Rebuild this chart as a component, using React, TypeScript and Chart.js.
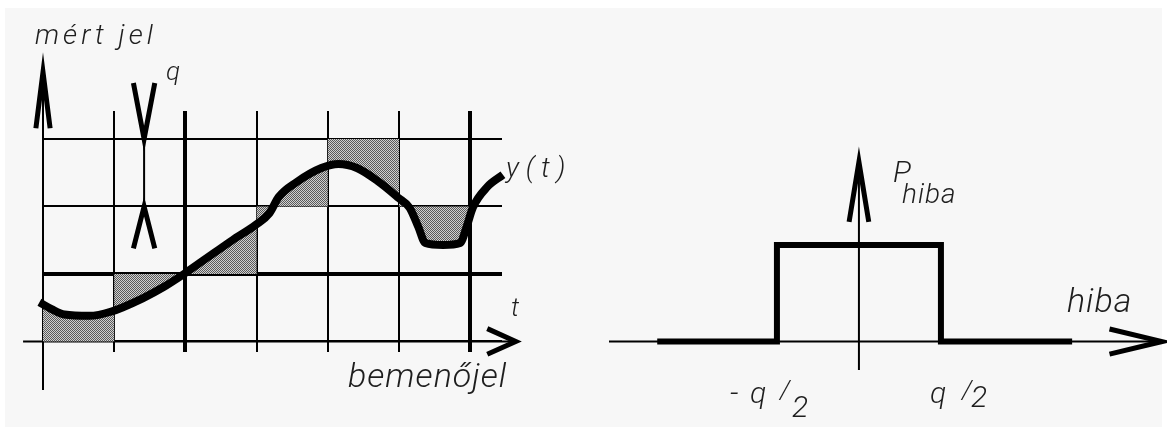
import { useEffect, useRef } from 'react';
import { Chart, registerables } from 'chart.js';

Chart.register(...registerables);

// Sampling cells on the time axis and the quantization levels
const timeGrid = [0, 1, 2, 3, 4, 5, 6];
const levelGrid = [0, 1, 2, 3];
const boldTimes = [2, 6];
const boldLevels = [1];
// Quantized level held in each cell (last entry closes the final cell)
const cellLevels = [0, 1, 1, 2, 3, 2, 2];

// Measured signal y(t)
const signalT = [-0.05, 0.12, 0.3, 0.65, 0.95, 1.4, 1.7, 1.98, 2.4, 2.66, 2.99, 3.18, 3.31, 3.56, 3.91, 4.15, 4.41, 4.71, 4.99, 5.15, 5.27, 5.37, 5.62, 5.86, 5.95, 6.04, 6.24, 6.46];
const signalY = [0.58, 0.48, 0.4, 0.38, 0.44, 0.64, 0.81, 1.0, 1.31, 1.5, 1.73, 1.9, 2.14, 2.36, 2.57, 2.63, 2.57, 2.37, 2.13, 1.98, 1.7, 1.46, 1.43, 1.46, 1.7, 1.99, 2.29, 2.47];

// Error density: uniform between -q/2 and q/2
const errorX = [-1.23, -0.5, -0.5, 0.5, 0.5, 1.3];
const errorP = [0, 0, 1, 1, 0, 0];

// Axis extents
const timeAxis = [-0.28, 6.6];
const levelAxis = [-0.72, 3.95];
const errAxis = [-1.524, 1.8];
const pAxis = [-0.295, 1.82];

// q marker position (time) between levels 2 and 3
const qMarkT = 1.42;

type Pt = { x: number; y: number };
const pts = (xs: number[], ys: number[]): Pt[] => xs.map((x, i) => ({ x, y: ys[i] }));

// open arrow heads as polylines
const headUp = (x: number, tip: number, half: number, len: number): Pt[] => [
  { x: x - half, y: tip - len }, { x, y: tip }, { x: x + half, y: tip - len },
];
const headDown = (x: number, tip: number, half: number, len: number): Pt[] => [
  { x: x - half, y: tip + len }, { x, y: tip }, { x: x + half, y: tip + len },
];
const headRight = (y: number, tip: number, half: number, len: number): Pt[] => [
  { x: tip - len, y: y + half }, { x: tip, y }, { x: tip - len, y: y - half },
];

const stroke = (data: Pt[], width: number) => ({
  data,
  borderColor: '#000',
  borderWidth: width,
  pointRadius: 0,
  fill: false,
  clip: false as const,
  borderCapStyle: 'butt' as const,
  borderJoinStyle: 'miter' as const,
});

type Label = { text: string; x: number; y: number; size: number; spacing?: number };

const leftLabels: Label[] = [
  { text: 'mért jel', x: 35, y: 44, size: 28, spacing: 4 },
  { text: 'q', x: 166, y: 80, size: 26 },
  { text: 'y ( t )', x: 506, y: 177, size: 28 },
  { text: 't', x: 511, y: 316, size: 26 },
  { text: 'bemenőjel', x: 348, y: 387, size: 34, spacing: 1 },
];

const rightLabels: Label[] = [
  { text: 'P', x: 893, y: 182, size: 30 },
  { text: 'hiba', x: 902, y: 203, size: 28, spacing: 1 },
  { text: 'hiba', x: 1067, y: 312, size: 34, spacing: 1 },
  { text: '-', x: 730, y: 403, size: 30 },
  { text: 'q', x: 750, y: 403, size: 30 },
  { text: '/', x: 780, y: 398, size: 26 },
  { text: '2', x: 792, y: 417, size: 30 },
  { text: 'q', x: 930, y: 403, size: 30 },
  { text: '/', x: 962, y: 398, size: 26 },
  { text: '2', x: 971, y: 407, size: 30 },
];

const labelPlugin = (id: string, labels: Label[]) => ({
  id,
  afterDraw(chart: Chart) {
    const ctx = chart.ctx;
    ctx.save();
    ctx.fillStyle = '#1e1e1e';
    ctx.textBaseline = 'alphabetic';
    ctx.textAlign = 'left';
    for (const l of labels) {
      ctx.font = `italic 300 ${l.size}px Roboto, "DejaVu Sans", sans-serif`;
      (ctx as any).letterSpacing = `${l.spacing ?? 0}px`;
      ctx.fillText(l.text, l.x, l.y);
    }
    ctx.restore();
  },
});

function makeHatch(): CanvasPattern | string {
  const c = document.createElement('canvas');
  c.width = 2;
  c.height = 2;
  const g = c.getContext('2d');
  if (!g) return '#999';
  g.fillStyle = '#d0d0d0';
  g.fillRect(0, 0, 2, 2);
  g.fillStyle = '#5a5a5a';
  g.fillRect(0, 0, 1, 1);
  g.fillRect(1, 1, 1, 1);
  return g.createPattern(c, 'repeat') ?? '#999';
}

const W = 1167;
const H = 432;

export default function App() {
  const leftRef = useRef<HTMLCanvasElement>(null);
  const rightRef = useRef<HTMLCanvasElement>(null);

  useEffect(() => {
    document.body.style.margin = '0';
    if (!leftRef.current || !rightRef.current) return;
    const hatch = makeHatch();

    const left = new Chart(leftRef.current, {
      type: 'line',
      data: {
        datasets: [
          {
            // quantized staircase: fill boundary only, not stroked
            data: pts(timeGrid, cellLevels),
            stepped: 'before',
            borderColor: 'rgba(0,0,0,0)',
            borderWidth: 1,
            pointRadius: 0,
            fill: false,
          },
          {
            data: pts(signalT, signalY),
            borderColor: '#000',
            borderWidth: 8,
            pointRadius: 0,
            cubicInterpolationMode: 'monotone',
            fill: { target: 0 },
            backgroundColor: hatch as any,
            clip: false,
          },
          stroke([{ x: timeAxis[0], y: 0 }, { x: timeAxis[1], y: 0 }], 2),
          stroke([{ x: 0, y: levelAxis[0] }, { x: 0, y: levelAxis[1] }], 2),
          stroke(headRight(0, 6.64, 0.19, 0.4), 5),
          stroke(headUp(0, 3.99, 0.1, 0.83), 5),
          stroke(headDown(qMarkT, 3, 0.15, 0.83), 5),
          stroke([{ x: qMarkT, y: 3 }, { x: qMarkT, y: 2 }], 2),
          stroke(headUp(qMarkT, 2, 0.15, 0.62), 5),
        ] as any,
      },
      options: {
        responsive: false,
        animation: false,
        events: [],
        layout: { padding: { left: 43, top: 111, right: W - 502, bottom: H - 352 } },
        plugins: { legend: { display: false }, tooltip: { enabled: false } },
        scales: {
          x: {
            type: 'linear',
            min: 0,
            max: 6.447,
            z: 1,
            afterBuildTicks: (s: any) => {
              s.ticks = timeGrid.map((v) => ({ value: v }));
            },
            ticks: { display: false },
            border: { display: false },
            grid: {
              color: '#000',
              drawTicks: false,
              lineWidth: (c: any) => (c.tick && boldTimes.includes(c.tick.value) ? 4 : 2),
            },
          },
          y: {
            type: 'linear',
            min: -0.156,
            max: 3.415,
            z: 1,
            afterBuildTicks: (s: any) => {
              s.ticks = levelGrid.map((v) => ({ value: v }));
            },
            ticks: { display: false },
            border: { display: false },
            grid: {
              color: '#000',
              drawTicks: false,
              lineWidth: (c: any) => (c.tick && boldLevels.includes(c.tick.value) ? 4 : 2),
            },
          },
        },
      },
      plugins: [labelPlugin('leftLabels', leftLabels)],
    });

    const right = new Chart(rightRef.current, {
      type: 'line',
      data: {
        datasets: [
          stroke([{ x: errAxis[0], y: 0 }, { x: errAxis[1], y: 0 }], 2),
          stroke([{ x: 0, y: pAxis[0] }, { x: 0, y: pAxis[1] }], 2),
          stroke(pts(errorX, errorP), 6),
          stroke(headRight(0, 1.848, 0.13, 0.32), 5),
          stroke(headUp(0, 1.86, 0.06, 0.62), 5),
        ] as any,
      },
      options: {
        responsive: false,
        animation: false,
        events: [],
        layout: { padding: { left: 609, top: 162, right: W - 1162, bottom: H - 370 } },
        plugins: { legend: { display: false }, tooltip: { enabled: false } },
        scales: {
          x: { type: 'linear', min: -1.524, max: 1.848, display: false },
          y: { type: 'linear', min: -0.295, max: 1.86, display: false },
        },
      },
      plugins: [labelPlugin('rightLabels', rightLabels)],
    });

    return () => {
      left.destroy();
      right.destroy();
    };
  }, []);

  return (
    <div style={{ position: 'fixed', left: 0, top: 0, width: W, height: H, background: '#fff' }}>
      <div style={{ position: 'absolute', left: 5, top: 8, width: 1157, height: 419, background: '#f7f7f7' }} />
      <canvas ref={leftRef} width={W} height={H} style={{ position: 'absolute', left: 0, top: 0 }} />
      <canvas ref={rightRef} width={W} height={H} style={{ position: 'absolute', left: 0, top: 0 }} />
    </div>
  );
}
